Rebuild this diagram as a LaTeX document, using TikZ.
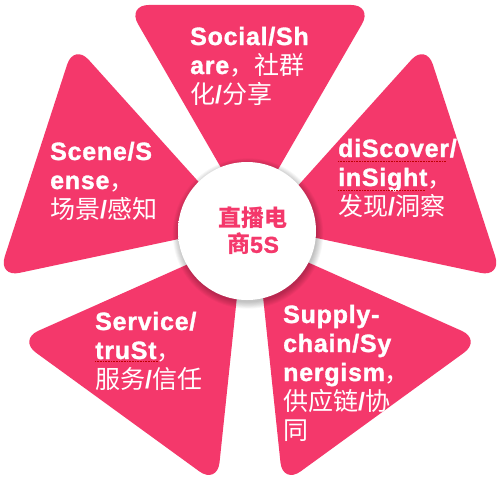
\documentclass[tikz,border=0pt]{standalone}
\usepackage{fontspec}
\setmainfont{Liberation Sans}
\newfontfamily\latb[LetterSpace=3, BoldFeatures={FakeBold=1.3}]{Liberation Sans}
\newfontfamily\cjk{Noto Sans CJK SC}
\usetikzlibrary{calc}
\definecolor{petalpink}{HTML}{F4386B}
\pgfdeclareradialshading{button}{\pgfpoint{-4bp}{6bp}}{%
  color(0bp)=(white); color(34bp)=(white); color(44bp)=(gray!10); color(50bp)=(gray!28); color(51bp)=(gray!28)}
\newcommand\EN[1]{{\latb\bfseries #1}}
\newcommand\ZH[1]{{\cjk #1}}
\newcommand\SL{{\bfseries /}}
\tikzset{
  petalfill/.style={fill=petalpink, rounded corners=22pt},
  ptext/.style={text=white, anchor=base west, inner sep=0pt, text width=140pt, align=left,
                font=\fontsize{25}{29}\selectfont},
  squig/.style={draw=red!75!black, densely dotted, line width=0.6pt},
}
\newcommand\petal[2]{%
  \path[petalfill] ($(C)+(#1:12pt)$) coordinate (#2) -- ($(#2)+(#1+30:246pt)$) -- ($(#2)+(#1-30:246pt)$) -- cycle;}
\begin{document}
\begin{tikzpicture}[x=1pt,y=-1pt]
\clip (0,0) rectangle (500,477);
\fill[white] (0,0) rectangle (500,477);
\coordinate (C) at (250,230);
\petal{90}{ptop}
\petal{162}{pul}
\petal{234}{pll}
\petal{306}{plr}
\petal{18}{pur}
% centre button
\coordinate (B) at (247,231);
\foreach \i in {1,...,8}{
  \fill[black, opacity=0.03] ($(B)+(1,2.5)$) circle[radius=68+0.9*\i];
}
\shade[shading=button] (B) circle[radius=69];
\node (hub) at (253,231) [text=petalpink, align=center, inner sep=0pt,
  font=\fontsize{23}{26}\selectfont] {{\cjk\bfseries 直播电}\\{\cjk\bfseries 商}{\latb\bfseries 5S}};
% petal texts
\node[ptext] (social) at (190,45) {\EN{Social/Sh}\\\EN{are}\ZH{，社群}\\\ZH{化}\SL\ZH{分享}};
\node[ptext] (scene) at (50,160) {\EN{Scene/S}\\\EN{ense}\ZH{，}\\\ZH{场景}\SL\ZH{感知}};
\node[ptext] (discover) at (338,157) {\EN{diScover/}\\\EN{inSight}\ZH{，}\\\ZH{发现}\SL\ZH{洞察}};
\node[ptext] (service) at (95,330) {\EN{Service/}\\\EN{truSt}\ZH{，}\\\ZH{服务}\SL\ZH{信任}};
\node[ptext] (supply) at (283,323) {\EN{Supply-}\\\EN{chain/Sy}\\\EN{nergism}\ZH{，}\\\ZH{供应链}\SL\ZH{协}\\\ZH{同}};
% spell-check marks
\draw[squig] (338,161) -- (446,161);
\draw[squig] (338,190) -- (425,190);
\draw[squig] (95,361) -- (158,361);
\end{tikzpicture}
\end{document}
